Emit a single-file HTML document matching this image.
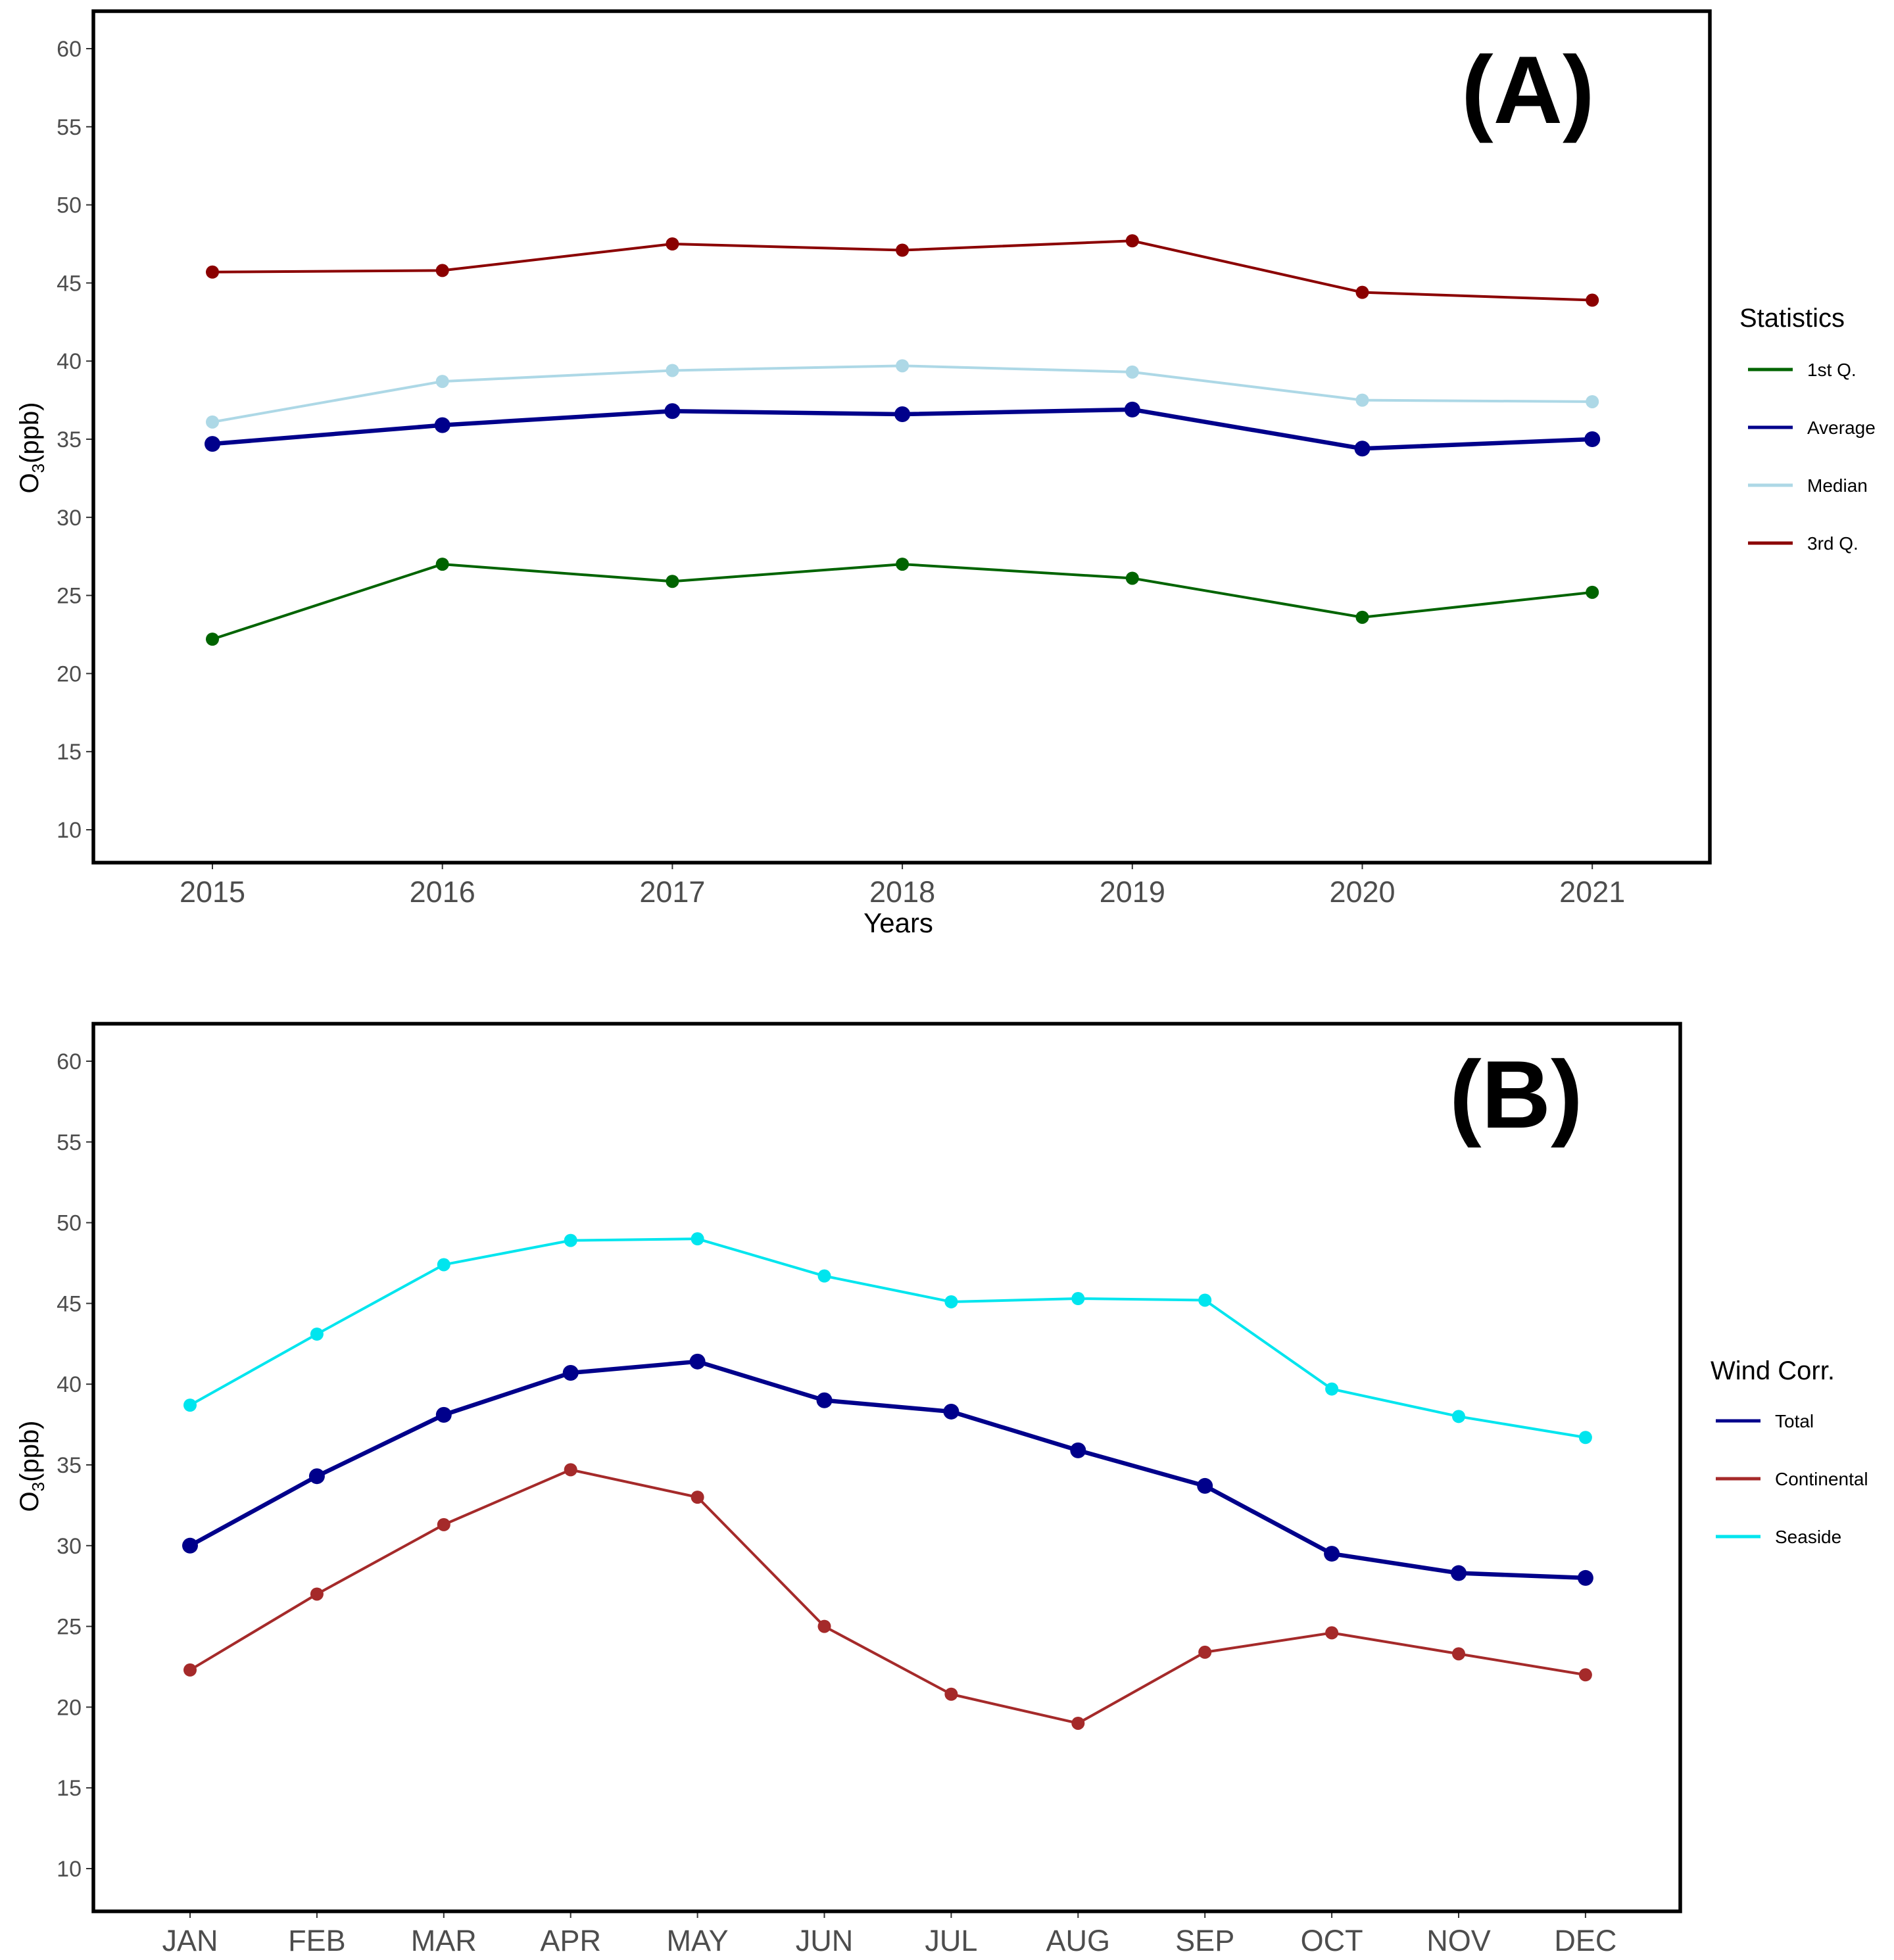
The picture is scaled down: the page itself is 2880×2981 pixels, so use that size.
<!DOCTYPE html>
<html><head><meta charset="utf-8"><style>
html,body{margin:0;padding:0;background:#fff;}
svg{display:block;font-family:"Liberation Sans",Arial,sans-serif;}
</style></head><body>
<svg id="chart" width="2880" height="2981" viewBox="0 0 2880 2981" xmlns="http://www.w3.org/2000/svg"></svg>
<script>
// Panel A data
const yearsA = ["2015","2016","2017","2018","2019","2020","2021"];
const q1A = [22.2, 27.0, 25.9, 27.0, 26.1, 23.6, 25.2];
const avgA = [34.7, 35.9, 36.8, 36.6, 36.9, 34.4, 35.0];
const medA = [36.1, 38.7, 39.4, 39.7, 39.3, 37.5, 37.4];
const q3A = [45.7, 45.8, 47.5, 47.1, 47.7, 44.4, 43.9];
// Panel B data
const monthsB = ["JAN","FEB","MAR","APR","MAY","JUN","JUL","AUG","SEP","OCT","NOV","DEC"];
const totalB = [30.0, 34.3, 38.1, 40.7, 41.4, 39.0, 38.3, 35.9, 33.7, 29.5, 28.3, 28.0];
const contB = [22.3, 27.0, 31.3, 34.7, 33.0, 25.0, 20.8, 19.0, 23.4, 24.6, 23.3, 22.0];
const seaB = [38.7, 43.1, 47.4, 48.9, 49.0, 46.7, 45.1, 45.3, 45.2, 39.7, 38.0, 36.7];
const yTicks = [10,15,20,25,30,35,40,45,50,55,60];

const NS = "http://www.w3.org/2000/svg";
const svg = document.getElementById('chart');
function mk(tag, attrs, parent){
  const e = document.createElementNS(NS, tag);
  for (const k in attrs) e.setAttribute(k, attrs[k]);
  (parent||svg).appendChild(e);
  return e;
}

function panel(cfg){
  const g = mk('g', {});
  
  
  const y = v => cfg.y60 + (60 - v) * (cfg.y10 - cfg.y60) / 50;
  const x = i => cfg.x0 + i * cfg.dx;
  yTicks.forEach(t => {
    const tk = mk('line', {x1: cfg.left-11, x2: cfg.left, y1: y(t), y2: y(t), stroke: '#333', 'stroke-width': 2}, g);
    
    
    const tl = mk('text', {x: cfg.left-18, y: y(t)+12, 'text-anchor': 'end', 'font-size': 34, fill: '#4d4d4d'}, g);
    tl.textContent = t;
    
    
  });
  cfg.cats.forEach((c, i) => {
    const tk = mk('line', {x1: x(i), x2: x(i), y1: cfg.bottom, y2: cfg.bottom+10, stroke: '#333', 'stroke-width': 2}, g);
    
    
    const tl = mk('text', {x: x(i), y: cfg.bottom+60, 'text-anchor': 'middle', 'font-size': 45, fill: '#4d4d4d'}, g);
    tl.textContent = c;
    
    
  });
  cfg.series.forEach(s => {
    const pts = s.vals.map((v, i) => x(i) + ',' + y(v)).join(' ');
    const pl = mk('polyline', {points: pts, fill: 'none', stroke: s.color, 'stroke-width': s.w, 'stroke-linejoin': 'round'}, g);
    
    
    s.vals.forEach((v, i) => {
      const c = mk('circle', {cx: x(i), cy: y(v), r: s.r, fill: s.color}, g);
      
      
    });
  });
  const b = mk('rect', {x: cfg.left, y: cfg.top, width: cfg.right-cfg.left, height: cfg.bottom-cfg.top, fill: 'none', stroke: '#000', 'stroke-width': 5.5}, g);
  
  
  const yt = mk('text', {transform: 'translate(' + (cfg.left-84) + ',' + cfg.ytitleY + ') rotate(-90)', 'text-anchor': 'middle', 'font-size': 40, fill: '#000'}, g);
  yt.innerHTML = 'O<tspan font-size="26" dy="9">3</tspan><tspan dy="-9">(ppb)</tspan>';
  
  
  const pl = mk('text', {x: cfg.labelX, y: cfg.labelY, 'font-size': 146, 'font-weight': 'bold', fill: '#000'}, g);
  pl.textContent = cfg.label;
  
  
  const lt = mk('text', {x: cfg.legX, y: cfg.legTitleY, 'font-size': 40, fill: '#000'}, g);
  lt.textContent = cfg.legTitle;
  
  
  cfg.legend.forEach((s, k) => {
    const ly = cfg.legY0 + k * cfg.legDy;
    const ll = mk('line', {x1: cfg.legLineX, x2: cfg.legLineX+68, y1: ly, y2: ly, stroke: s.color, 'stroke-width': 5}, g);
    
    
    const tx = mk('text', {x: cfg.legLineX+90, y: ly+10, 'font-size': 28, fill: '#000'}, g);
    tx.textContent = s.label;
    
    
  });
}

panel({
  name: 'panel-a', cats: yearsA, left: 142, right: 2600, top: 17, bottom: 1312,
  y60: 74, y10: 1262, x0: 323, dx: 349.7, ytitleY: 681,
  label: '(A)', labelX: 2222, labelY: 187,
  legTitle: 'Statistics', legX: 2645, legTitleY: 497, legLineX: 2658, legY0: 562, legDy: 88,
  series: [
    {key:'third-quartile', vals:q3A, color:'#8b0000', w:4, r:10},
    {key:'median', vals:medA, color:'#add8e6', w:4, r:10},
    {key:'average', vals:avgA, color:'#00008b', w:6.5, r:12},
    {key:'first-quartile', vals:q1A, color:'#006400', w:4, r:10}
  ],
  legend: [
    {label:'1st Q.', color:'#006400'},
    {label:'Average', color:'#00008b'},
    {label:'Median', color:'#add8e6'},
    {label:'3rd Q.', color:'#8b0000'}
  ]
});
panel({
  name: 'panel-b', cats: monthsB, left: 142, right: 2555, top: 1557, bottom: 2907,
  y60: 1614, y10: 2842, x0: 289, dx: 192.9, ytitleY: 2230,
  label: '(B)', labelX: 2204, labelY: 1715,
  legTitle: 'Wind Corr.', legX: 2601, legTitleY: 2098, legLineX: 2609, legY0: 2161, legDy: 88,
  series: [
    {key:'seaside', vals:seaB, color:'#00e5ee', w:4, r:10},
    {key:'total', vals:totalB, color:'#00008b', w:6.5, r:12},
    {key:'continental', vals:contB, color:'#a52a2a', w:4, r:10}
  ],
  legend: [
    {label:'Total', color:'#00008b'},
    {label:'Continental', color:'#a52a2a'},
    {label:'Seaside', color:'#00e5ee'}
  ]
});
const xt = mk('text', {x: 1366, y: 1418, 'text-anchor': 'middle', 'font-size': 42, fill: '#000'});
xt.textContent = 'Years';


</script>
</body></html>
